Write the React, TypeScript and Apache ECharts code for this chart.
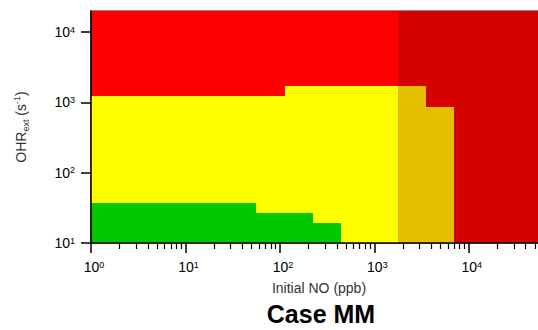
import React, { useEffect, useRef } from 'react';
import * as echarts from 'echarts';

// Axis extents
const X_MIN = 1;
const X_MAX = 54000;
const Y_MIN = 10;
const Y_MAX = 20000;

// Tick positions
const xMajorTicks = [1, 10, 100, 1000, 10000];
const yMajorTicks = [10, 100, 1000, 10000];
const minorMultipliers = [2, 3, 4, 5, 6, 7, 8, 9];
const minorDecades = [1, 10, 100, 1000, 10000];

// Regime blocks: [NO from (ppb), NO to (ppb), OHRext upper bound (s^-1)], each from Y_MIN up
const redBlocks = [[1, 1800, 20000]];
const darkRedBlocks = [[1800, 54000, 20000]];
const yellowBlocks = [[1, 112, 1230], [112, 1800, 1710]];
const goldBlocks = [[1800, 3500, 1710], [3500, 7000, 865]];
const greenBlocks = [[1, 55.6, 37.6], [55.6, 223, 27.1], [223, 443, 19.3]];

const FONT = 'Liberation Sans';

function blockSeries(name: string, data: number[][], color: string) {
  return {
    type: 'custom',
    name,
    xAxisIndex: 0,
    yAxisIndex: 0,
    clip: true,
    encode: { x: [0, 1], y: [2] },
    data,
    renderItem: (_params: any, api: any) => {
      const p0 = api.coord([api.value(0), api.value(2)]);
      const p1 = api.coord([api.value(1), Y_MIN]);
      const x0 = Math.round(p0[0]);
      const x1 = Math.round(p1[0]);
      const y0 = Math.round(p0[1]);
      const y1 = Math.round(p1[1]);
      return {
        type: 'rect',
        shape: { x: x0, y: y0, width: x1 - x0, height: y1 - y0 },
        style: { fill: color, stroke: null },
      };
    },
  };
}

const labelFormatter = (v: number) => {
  const e = Math.round(Math.log10(v));
  return `{a|10}{b|${e}}`;
};

export default function App() {
  const ref = useRef<HTMLDivElement>(null);

  useEffect(() => {
    if (!ref.current) return;
    const chart = echarts.init(ref.current, undefined, { renderer: 'svg' });
    const minorTicks: number[] = [];
    minorDecades.forEach((d) => minorMultipliers.forEach((m) => minorTicks.push(m * d)));

    const xRich = {
      a: { fontSize: 14, fontFamily: FONT, color: '#000', lineHeight: 14, verticalAlign: 'bottom', padding: [0, 0, 0, 6] },
      b: { fontSize: 9, fontFamily: FONT, color: '#000', lineHeight: 12, verticalAlign: 'top', padding: [0, 0, 9, 0] },
    };
    const yRich = {
      a: { fontSize: 14, fontFamily: FONT, color: '#000', lineHeight: 14, verticalAlign: 'bottom' },
      b: { fontSize: 9, fontFamily: FONT, color: '#000', lineHeight: 12, verticalAlign: 'top', padding: [0, 0, 9, 0] },
    };

    chart.setOption({
      animation: false,
      backgroundColor: '#fff',
      grid: {
        left: 91,
        top: 11,
        right: -5,
        bottom: 87,
        show: true,
        borderColor: '#666',
        borderWidth: 1.5,
        backgroundColor: 'transparent',
      },
      xAxis: [
        {
          type: 'log',
          logBase: 10,
          min: X_MIN,
          max: X_MAX,
          position: 'bottom',
          axisLine: { show: true, lineStyle: { color: '#000', width: 1.5 } },
          axisTick: { show: true, length: 10, customValues: xMajorTicks, lineStyle: { color: '#000', width: 1.5 } },
          axisLabel: { show: true, customValues: xMajorTicks, margin: 17, formatter: labelFormatter, rich: xRich },
          splitLine: { show: false },
          minorTick: { show: false },
          z: 5,
        },
        {
          type: 'log',
          logBase: 10,
          min: X_MIN,
          max: X_MAX,
          position: 'bottom',
          axisLine: { show: false },
          axisTick: { show: true, length: 6, customValues: minorTicks, lineStyle: { color: '#000', width: 1.2 } },
          axisLabel: { show: false },
          splitLine: { show: false },
          z: 5,
        },
      ],
      yAxis: [
        {
          type: 'log',
          logBase: 10,
          min: Y_MIN,
          max: Y_MAX,
          axisLine: { show: true, lineStyle: { color: '#000', width: 1.5 } },
          axisTick: { show: true, length: 10, customValues: yMajorTicks, lineStyle: { color: '#000', width: 1.5 } },
          axisLabel: { show: true, customValues: yMajorTicks, margin: 16, formatter: labelFormatter, rich: yRich },
          splitLine: { show: false },
          z: 5,
        },
      ],
      graphic: [
        {
          type: 'text',
          x: 21,
          y: 127,
          rotation: Math.PI / 2,
          style: {
            text: '{m|OHR}{s|ext}{m| (s}{p|-1}{m|)}',
            align: 'center',
            verticalAlign: 'middle',
            rich: {
              m: { fontSize: 14, fontFamily: FONT, fill: '#333', lineHeight: 18 },
              s: { fontSize: 9, fontFamily: FONT, fill: '#333', lineHeight: 10, verticalAlign: 'bottom' },
              p: { fontSize: 9, fontFamily: FONT, fill: '#333', lineHeight: 10, verticalAlign: 'top' },
            },
          },
        },
        {
          type: 'text',
          x: 319,
          y: 288,
          style: {
            text: 'Initial NO (ppb)',
            fontSize: 14,
            fontFamily: FONT,
            fill: '#333',
            align: 'center',
            verticalAlign: 'middle',
          },
        },
        {
          type: 'text',
          x: 321,
          y: 314,
          style: {
            text: 'Case MM',
            fontSize: 25,
            fontWeight: 'bold',
            fontFamily: FONT,
            fill: '#000',
            align: 'center',
            verticalAlign: 'middle',
          },
        },
      ],
      series: [
        blockSeries('Low NO, high OHR', redBlocks, '#FF0000'),
        blockSeries('High NO, high OHR', darkRedBlocks, '#D50000'),
        blockSeries('Low NO, mid OHR', yellowBlocks, '#FFFF00'),
        blockSeries('High NO, mid OHR', goldBlocks, '#E6BE00'),
        blockSeries('Low OHR', greenBlocks, '#00C800'),
      ],
    });
    return () => chart.dispose();
  }, []);

  return (
    <div
      ref={ref}
      style={{ position: 'absolute', left: 0, top: 0, width: 538, height: 330 }}
    />
  );
}
